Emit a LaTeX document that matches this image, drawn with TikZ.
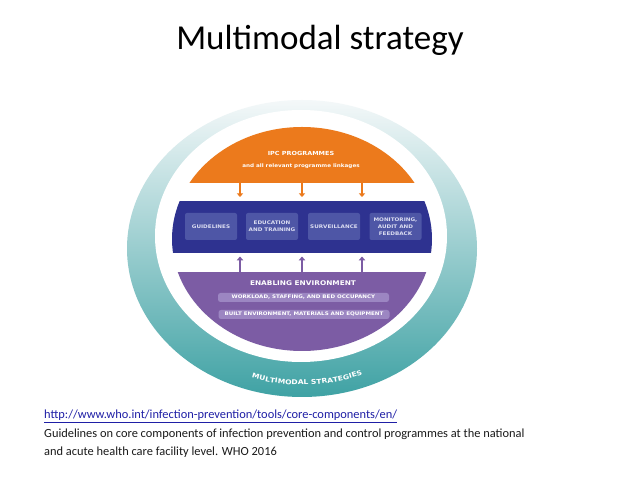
\documentclass[tikz,border=0pt]{standalone}
\usepackage{fontspec}
\setmainfont{Carlito}
\newfontfamily\lab[FakeStretch=1.15]{DejaVu Sans}
\usetikzlibrary{arrows.meta,decorations.text}
\definecolor{ipcorange}{HTML}{EC7A1C}
\definecolor{bandblue}{HTML}{2E3290}
\definecolor{boxblue}{HTML}{4E56A6}
\definecolor{envpurple}{HTML}{7C5CA4}
\definecolor{barpurple}{HTML}{9C86C2}
\definecolor{ringteal}{HTML}{3FA2A4}
\definecolor{ringlight}{HTML}{F4F8F9}
\definecolor{linkblue}{HTML}{1F1FA6}
\definecolor{boxtext}{HTML}{DCDEF2}
\definecolor{bodytext}{HTML}{1A1A1A}
\begin{document}
\begin{tikzpicture}[x=1pt,y=1pt,
  lbl/.style={text=white, inner sep=0pt, align=center},
  compbox/.style={fill=boxblue, rounded corners=2pt, minimum width=52pt, minimum height=27pt, inner sep=0pt,
    font=\lab\bfseries\fontsize{4.9}{7.2}\selectfont, text=boxtext, align=center},
  envbar/.style={fill=barpurple, rounded corners=2.5pt, minimum width=171pt, minimum height=9pt, inner sep=0pt,
    font=\lab\bfseries\fontsize{4.85}{5}\selectfont, text=white},
  downarr/.style={draw=ipcorange, line width=1.4pt, -{Triangle[width=6pt,length=3.5pt]}},
  uparr/.style={draw=envpurple, line width=1.4pt, -{Triangle[width=6.5pt,length=4pt]}},
  bodyline/.style={anchor=base west, inner sep=0pt, font=\fontsize{12.4}{15}\selectfont, text=bodytext}
]
\useasboundingbox (0,0) rectangle (638,479);
\fill[white] (0,0) rectangle (638,479);

% title
\node[anchor=base, inner sep=0pt, font=\fontsize{35}{40}\selectfont, text=black] (title) at (320,429) {Multimodal strategy};

% ring
\coordinate (ringc) at (302,230.5);
\shade[top color=ringlight, bottom color=ringteal] (ringc) ellipse[x radius=175, y radius=148.5];
\fill[white] (301,243) ellipse[x radius=146, y radius=126];

% content disc
\begin{scope}
  \clip (302,240) ellipse[x radius=130, y radius=112];
  \fill[ipcorange] (150,296) rectangle (450,360);
  \fill[bandblue] (150,226) rectangle (450,278);
  \fill[envpurple] (150,120) rectangle (450,207);
\end{scope}

% IPC programmes
\node[lbl, font=\lab\bfseries\fontsize{5.6}{7}\selectfont] (ipc) at (301,326) {IPC PROGRAMMES};
\node[lbl, font=\lab\bfseries\fontsize{4.9}{6}\selectfont] (link) at (301,313) {and all relevant programme linkages};

% core components
\node[compbox] (guide) at (211,252.5) {GUIDELINES};
\node[compbox] (edu) at (272,252.5) {EDUCATION\\AND TRAINING};
\node[compbox] (surv) at (334,252.5) {SURVEILLANCE};
\node[compbox] (mon) at (395.5,252.5) {MONITORING,\\AUDIT AND\\FEEDBACK};

% arrows
\coordinate (o1) at (240,296); \coordinate (t1) at (240,282);
\coordinate (o2) at (302,296); \coordinate (t2) at (302,282);
\coordinate (o3) at (362,296); \coordinate (t3) at (362,282);
\draw[downarr] (o1) -- (t1);
\draw[downarr] (o2) -- (t2);
\draw[downarr] (o3) -- (t3);
\coordinate (p1) at (240,207); \coordinate (u1) at (240,222.5);
\coordinate (p2) at (302,207); \coordinate (u2) at (302,222.5);
\coordinate (p3) at (362,207); \coordinate (u3) at (362,222.5);
\draw[uparr] (p1) -- (u1);
\draw[uparr] (p2) -- (u2);
\draw[uparr] (p3) -- (u3);

% enabling environment
\node[lbl, font=\lab\bfseries\fontsize{6.4}{7}\selectfont] (env) at (303,196) {ENABLING ENVIRONMENT};
\node[envbar] (work) at (303.5,181.5) {WORKLOAD, STAFFING, AND BED OCCUPANCY};
\node[envbar] (built) at (304,164.5) {BUILT ENVIRONMENT, MATERIALS AND EQUIPMENT};

% curved label
\path[decorate, decoration={text along path, text align=center, text color=white,
  text={|\lab\bfseries\fontsize{6.6}{8}\selectfont|MULTIMODAL STRATEGIES}}]
  ([shift={(232:158 and 136.5)}]ringc) arc[start angle=232, end angle=312, x radius=158, y radius=136.5];

% reference text
\node[bodyline, text=linkblue] (url) at (44,60) {\underline{http://www.who.int/infection-prevention/tools/core-components/en/}};
\node[bodyline] (cite1) at (44,41) {Guidelines on core components of infection prevention and control programmes at the national};
\node[bodyline] (cite2) at (44,23.5) {and acute health care facility level. WHO 2016};
\end{tikzpicture}
\end{document}
